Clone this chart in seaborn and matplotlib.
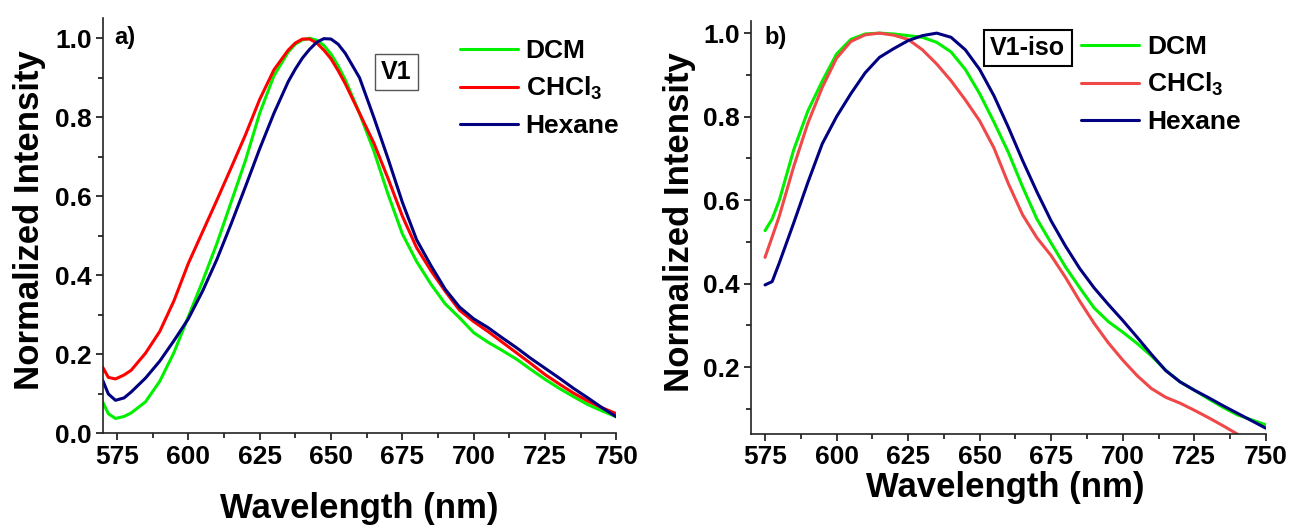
import numpy as np
import pandas as pd
import matplotlib
matplotlib.use("Agg")
import matplotlib.pyplot as plt
import seaborn as sns
from matplotlib.ticker import MultipleLocator

# ---- data ----
wl_v1 = [570, 572, 574.5, 577.5, 580, 585, 590, 595, 600, 605, 610, 615, 620, 625,
         630, 635, 637.5, 640, 642.5, 645, 647.5, 650, 652.5, 655, 660, 665, 670, 675,
         680, 685, 690, 695, 700, 705, 710, 715, 720, 725, 730, 735, 740, 745, 750]
v1_dcm = [0.08, 0.05, 0.038, 0.043, 0.052, 0.08, 0.132, 0.205, 0.295, 0.385, 0.48, 0.585,
          0.69, 0.81, 0.905, 0.965, 0.985, 0.996, 1.0, 0.995, 0.982, 0.96, 0.93, 0.895,
          0.81, 0.715, 0.605, 0.505, 0.435, 0.378, 0.328, 0.293, 0.255, 0.231, 0.21,
          0.188, 0.162, 0.137, 0.114, 0.093, 0.073, 0.057, 0.042]
v1_chcl3 = [0.168, 0.142, 0.138, 0.148, 0.16, 0.203, 0.258, 0.336, 0.43, 0.51, 0.59, 0.672,
            0.755, 0.845, 0.92, 0.97, 0.988, 0.998, 0.998, 0.988, 0.97, 0.948, 0.918,
            0.885, 0.81, 0.735, 0.645, 0.55, 0.47, 0.412, 0.36, 0.312, 0.283, 0.258,
            0.231, 0.204, 0.177, 0.149, 0.125, 0.102, 0.082, 0.065, 0.05]
v1_hexane = [0.135, 0.1, 0.084, 0.09, 0.105, 0.14, 0.183, 0.235, 0.29, 0.36, 0.44, 0.53,
             0.624, 0.72, 0.81, 0.89, 0.922, 0.95, 0.972, 0.99, 0.999, 0.998, 0.985,
             0.962, 0.9, 0.8, 0.695, 0.585, 0.49, 0.425, 0.365, 0.32, 0.29, 0.268,
             0.242, 0.217, 0.19, 0.165, 0.14, 0.114, 0.09, 0.065, 0.042]

wl_iso = [575, 577.5, 580, 585, 590, 595, 600, 605, 610, 615, 620, 625, 630, 635, 640,
          645, 650, 655, 660, 665, 670, 675, 680, 685, 690, 695, 700, 705, 710, 715,
          720, 725, 730, 735, 740, 745, 750]
iso_dcm = [0.527, 0.555, 0.6, 0.72, 0.814, 0.885, 0.95, 0.985, 0.998, 1.0, 0.998, 0.994,
           0.99, 0.978, 0.955, 0.913, 0.855, 0.787, 0.715, 0.632, 0.555, 0.497, 0.44,
           0.39, 0.342, 0.309, 0.284, 0.257, 0.227, 0.193, 0.165, 0.145, 0.124, 0.104,
           0.086, 0.074, 0.062]
iso_chcl3 = [0.463, 0.512, 0.562, 0.68, 0.785, 0.87, 0.94, 0.98, 0.996, 1.0, 0.995, 0.985,
             0.96, 0.926, 0.886, 0.84, 0.79, 0.725, 0.64, 0.565, 0.51, 0.467, 0.415,
             0.358, 0.305, 0.258, 0.217, 0.18, 0.149, 0.128, 0.114, 0.097, 0.079, 0.06,
             0.04, None, None]
iso_hexane = [0.397, 0.405, 0.45, 0.545, 0.643, 0.735, 0.8, 0.855, 0.905, 0.942, 0.963,
              0.982, 0.994, 1.0, 0.99, 0.96, 0.913, 0.85, 0.775, 0.695, 0.62, 0.55, 0.49,
              0.436, 0.39, 0.35, 0.312, 0.272, 0.231, 0.192, 0.165, 0.145, 0.127, 0.108,
              0.09, 0.072, 0.054]

solvents = ["DCM", r"CHCl$_3$", "Hexane"]
xticks = [575, 600, 625, 650, 675, 700, 725, 750]

sns.set_style("ticks")
plt.rcParams["font.family"] = ["Liberation Sans", "DejaVu Sans"]
plt.rcParams["font.weight"] = "bold"
plt.rcParams["mathtext.fontset"] = "custom"
plt.rcParams["mathtext.rm"] = "Liberation Sans:bold"
plt.rcParams["mathtext.default"] = "regular"
for key in ("text.color", "axes.labelcolor", "xtick.color", "ytick.color", "axes.edgecolor"):
    plt.rcParams[key] = "black"

fig = plt.figure(figsize=(12.91, 5.28), dpi=100)
ax1 = fig.add_axes([0.0795, 0.179, 0.398, 0.786])
ax2 = fig.add_axes([0.5815, 0.178, 0.399, 0.783])


def draw(ax, wl, series, colors):
    for name, vals, col in zip(solvents, series, colors):
        df = pd.DataFrame({"wl": wl, "I": vals}).dropna()
        sns.lineplot(data=df, x="wl", y="I", ax=ax, color=col, lw=2.2,
                     label=name, sort=False, estimator=None,
                     solid_joinstyle="round")


draw(ax1, wl_v1, [v1_dcm, v1_chcl3, v1_hexane], ["#00f000", "#ff0000", "#000080"])
draw(ax2, wl_iso, [iso_dcm, iso_chcl3, iso_hexane], ["#00f000", "#f04848", "#000080"])

ax1.set_ylim(0, 1.05)
ax2.set_ylim(0.04, 1.03)
ax1.yaxis.set_major_locator(MultipleLocator(0.2))
ax2.set_yticks([0.2, 0.4, 0.6, 0.8, 1.0])

for ax in (ax1, ax2):
    ax.set_xlim(570, 750)
    ax.set_xticks(xticks)
    ax.xaxis.set_minor_locator(MultipleLocator(12.5))
    ax.yaxis.set_minor_locator(MultipleLocator(0.1))
    ax.yaxis.set_major_formatter(plt.FormatStrFormatter("%.1f"))
    sns.despine(ax=ax)
    for s in ("left", "bottom"):
        ax.spines[s].set_linewidth(1.2)
        ax.spines[s].set_color("#222222")
    ax.tick_params(which="major", length=5, width=1.1, labelsize=19, pad=3,
                   direction="out", colors="black")
    ax.tick_params(which="minor", length=3.5, width=1.1, direction="out")
    for lab in ax.get_xticklabels() + ax.get_yticklabels():
        lab.set_fontweight("bold")
    ax.set_xlabel("Wavelength (nm)", fontsize=25, fontweight="bold")
    ax.set_ylabel("Normalized Intensity", fontsize=25, fontweight="bold")

ax1.xaxis.set_label_coords(0.5, -0.14)
ax2.xaxis.set_label_coords(0.494, -0.09)
ax1.yaxis.set_label_coords(-0.11, 0.514)
ax2.yaxis.set_label_coords(-0.106, 0.513)

ax1.text(0.043, 0.955, "a)", transform=ax1.transAxes, fontsize=17,
         fontweight="bold", ha="center", va="center")
ax2.text(0.049, 0.958, "b)", transform=ax2.transAxes, fontsize=17,
         fontweight="bold", ha="center", va="center")

ax1.text(0.572, 0.871, "V1", transform=ax1.transAxes, fontsize=18, fontweight="bold",
         ha="center", va="center",
         bbox=dict(boxstyle="square,pad=0.25", fc="white", ec="#555555", lw=1))
ax2.text(0.538, 0.934, "V1-iso", transform=ax2.transAxes, fontsize=18, fontweight="bold",
         ha="center", va="center",
         bbox=dict(boxstyle="square,pad=0.25", fc="white", ec="black", lw=1.5))

ax1.legend(loc="upper left", bbox_to_anchor=(0.695, 0.95), frameon=False,
           handlelength=2.2, handletextpad=0.3, labelspacing=0.45,
           borderpad=0, borderaxespad=0, prop={"weight": "bold", "size": 19})
ax2.legend(loc="upper left", bbox_to_anchor=(0.641, 0.965), frameon=False,
           handlelength=2.2, handletextpad=0.3, labelspacing=0.45,
           borderpad=0, borderaxespad=0, prop={"weight": "bold", "size": 19})

fig.savefig("out.png", dpi=100)
